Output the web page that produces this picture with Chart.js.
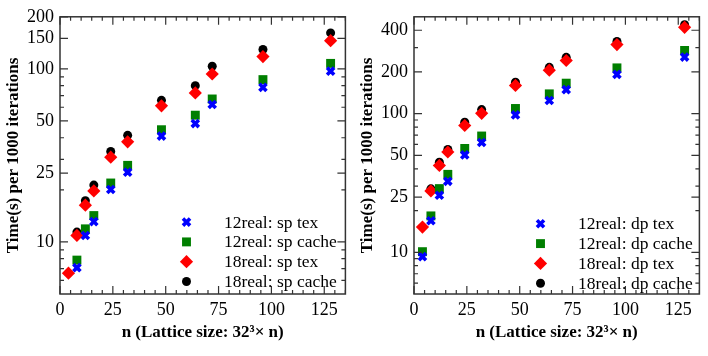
<!DOCTYPE html>
<html>
<head>
<meta charset="utf-8">
<script src="https://cdn.jsdelivr.net/npm/chart.js@4.4.3/dist/chart.umd.min.js"></script>
<style>
  html, body { margin: 0; padding: 0; background: #fff; }
  .panel { position: absolute; top: 0; width: 354px; height: 356px; }
</style>
</head>
<body>
<div class="panel" style="left:0"><canvas id="spChart" width="354" height="356"></canvas></div>
<div class="panel" style="left:354px"><canvas id="dpChart" width="354" height="356"></canvas></div>
<script>
// lattice extent n (x values)
const nValues = [4, 8, 12, 16, 24, 32, 48, 64, 72, 96, 128];

// single precision timings (left panel)
const sp12Tex   = [null, 7.1, 10.9, 13.1, 20.1, 25.3, 40.9, 48.3, 62.2, 78.2, 97];
const sp12Cache = [null, 7.85, 11.9, 14.2, 21.9, 27.7, 44.5, 54, 67, 86.7, 107.6];
const sp18Tex   = [6.6, 10.9, 16.3, 19.7, 30.9, 37.9, 61.2, 72.6, 93.4, 117.8, 145.5];
const sp18Cache = [null, 11.4, 17.3, 21.3, 33.3, 41.3, 65.8, 80, 103.6, 129.5, 161.4];

// double precision timings (right panel)
const dp12Tex   = [9.3, 16.9, 25.8, 32.5, 50.4, 62, 98, 124.4, 149, 192, 256];
const dp12Cache = [10.1, 18.3, 28.8, 36.5, 56.1, 69, 109, 139, 166, 214, 286];
const dp18Tex   = [15.2, 27.7, 42.3, 52.9, 82.2, 100.6, 160, 206, 242, 315, 420];
const dp18Cache = [null, 28.7, 44.7, 55.2, 86.7, 107, 168.5, 216, 255, 332, 438];

const spLabels = ['12real: sp tex', '12real: sp cache', '18real: sp tex', '18real: sp cache'];
const dpLabels = ['12real: dp tex', '12real: dp cache', '18real: dp tex', '18real: dp cache'];

const xMajorTicks = [0, 25, 50, 75, 100, 125];
const spYTicks = [10, 25, 50, 100, 150, 200];
const dpYTicks = [10, 25, 50, 100, 200, 400];
const spYMinor = [6, 7, 8, 9, 20, 30, 40, 60, 70, 80, 90];
const dpYMinor = [6, 7, 8, 9, 20, 30, 40, 60, 70, 80, 90, 300];

const serif = '"Liberation Serif", "Times New Roman", serif';

const markers = [
    { pointStyle: 'crossRot', radius: 5, color: '#0000ff', border: 3.6 },
    { pointStyle: 'rect', radius: 6.3, color: '#007f00', border: 0 },
    { pointStyle: 'rectRot', radius: 6.6, color: '#ff0000', border: 0 },
    { pointStyle: 'circle', radius: 4.5, color: '#000000', border: 0 }
];

// frame, inward ticks on all four sides, and the in-plot legend
const framePlugin = {
    id: 'frame',
    afterDraw(chart, args, opts) {
        const ctx = chart.ctx;
        const a = chart.chartArea;
        const xs = chart.scales.x, ys = chart.scales.y;
        ctx.save();
        ctx.strokeStyle = '#333';
        ctx.lineWidth = 1.5;
        ctx.strokeRect(a.left, a.top, a.right - a.left, a.bottom - a.top);
        ctx.lineWidth = 1.2;
        ctx.beginPath();
        for (let v = 0; v <= xs.max; v += 5) {
            const len = v % 25 === 0 ? 8 : 4;
            const px = xs.getPixelForValue(v);
            ctx.moveTo(px, a.bottom); ctx.lineTo(px, a.bottom - len);
            ctx.moveTo(px, a.top); ctx.lineTo(px, a.top + len);
        }
        const yt = opts.major.map(v => [v, 8]).concat(opts.minor.map(v => [v, 4]));
        yt.forEach(([v, len]) => {
            const py = ys.getPixelForValue(v);
            ctx.moveTo(a.left, py); ctx.lineTo(a.left + len, py);
            ctx.moveTo(a.right, py); ctx.lineTo(a.right - len, py);
        });
        ctx.stroke();

        // legend
        ctx.font = '17.5px ' + serif;
        ctx.textBaseline = 'middle';
        chart.data.datasets.forEach((ds, i) => {
            const y = a.top + opts.legendTop + i * 19.8;
            const m = markers[i];
            ctx.fillStyle = m.color;
            ctx.strokeStyle = m.color;
            ctx.lineWidth = m.border;
            Chart.helpers.drawPoint(ctx, {
                pointStyle: m.pointStyle, radius: m.radius, rotation: 0, borderWidth: m.border
            }, a.left + 126.5, y);
            ctx.fillStyle = '#000';
            ctx.fillText(ds.label, a.left + 164, y + 1);
        });
        ctx.restore();
    }
};

function buildChart(canvasId, labels, series, yMin, yMax, yMajor, yMinor, legendTop) {
    const datasets = series.map((vals, i) => ({
        label: labels[i],
        data: nValues.map((n, k) => ({ x: n, y: vals[k] })).filter(p => p.y !== null),
        pointStyle: markers[i].pointStyle,
        pointRadius: markers[i].radius,
        pointBackgroundColor: markers[i].color,
        pointBorderColor: markers[i].color,
        pointBorderWidth: markers[i].border,
        showLine: false
    }));

    return new Chart(document.getElementById(canvasId), {
        type: 'scatter',
        data: { datasets: datasets },
        plugins: [framePlugin],
        options: {
            responsive: false,
            animation: false,
            events: [],
            clip: false,
            layout: { padding: { top: 7, right: 6, left: 0, bottom: 0 } },
            plugins: {
                legend: { display: false },
                tooltip: { enabled: false },
                frame: { major: yMajor, minor: yMinor, legendTop: legendTop }
            },
            scales: {
                x: {
                    type: 'linear',
                    min: 0,
                    max: 135,
                    afterBuildTicks: s => { s.ticks = xMajorTicks.map(v => ({ value: v })); },
                    afterFit: s => { s.height = 62; },
                    grid: { display: false, drawTicks: false },
                    border: { display: false },
                    ticks: { color: '#000', padding: 5, maxRotation: 0, font: { size: 18, family: serif } },
                    title: {
                        display: true,
                        text: 'n (Lattice size: 32\u00B3\u00D7 n)',
                        color: '#000',
                        padding: { top: 4, bottom: 13 },
                        font: { size: 17, weight: 'bold', family: serif }
                    }
                },
                y: {
                    type: 'logarithmic',
                    min: yMin,
                    max: yMax,
                    afterBuildTicks: s => { s.ticks = yMajor.map(v => ({ value: v })); },
                    afterFit: s => { s.width = 60; },
                    grid: { display: false, drawTicks: false },
                    border: { display: false },
                    ticks: {
                        color: '#000',
                        padding: 6,
                        font: { size: 18, family: serif },
                        callback: v => String(v)
                    },
                    title: {
                        display: true,
                        text: 'Time(s) per 1000 iterations',
                        color: '#000',
                        padding: { top: 3, bottom: 0 },
                        font: { size: 17, weight: 'bold', family: serif }
                    }
                }
            }
        }
    });
}

buildChart('spChart', spLabels, [sp12Tex, sp12Cache, sp18Tex, sp18Cache], 5, 200, spYTicks, spYMinor, 205.3);
buildChart('dpChart', dpLabels, [dp12Tex, dp12Cache, dp18Tex, dp18Cache], 5, 500, dpYTicks, dpYMinor, 207);
</script>
</body>
</html>
